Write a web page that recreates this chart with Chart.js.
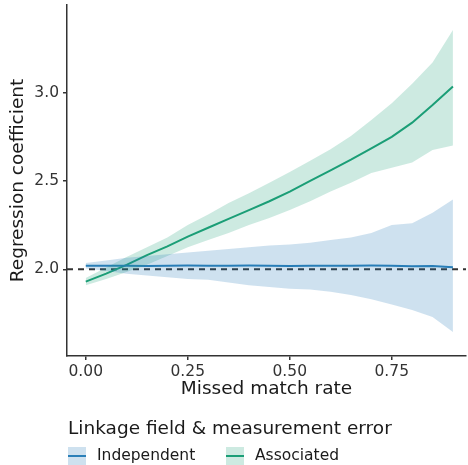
<!DOCTYPE html>
<html>
<head>
<meta charset="utf-8">
<script src="https://cdn.jsdelivr.net/npm/chart.js@4.4.1/dist/chart.umd.min.js"></script>
<style>
  html, body { margin: 0; padding: 0; background: #fff; }
  #wrap { width: 468px; height: 465px; }
</style>
</head>
<body>
<div id="wrap"><canvas id="chart" width="468" height="465"></canvas></div>
<script>
// Missed match rate on x, regression coefficient on y
const missRates = [0, 0.05, 0.1, 0.15, 0.2, 0.25, 0.3, 0.35, 0.4, 0.45, 0.5, 0.55, 0.6, 0.65, 0.7, 0.75, 0.8, 0.85, 0.9];

const indepMean  = [2.02, 2.02, 2.02, 2.019, 2.02, 2.021, 2.02, 2.02, 2.021, 2.02, 2.019, 2.02, 2.02, 2.02, 2.021, 2.02, 2.017, 2.018, 2.012];
const indepUpper = [2.035, 2.05, 2.065, 2.075, 2.085, 2.095, 2.105, 2.115, 2.125, 2.135, 2.14, 2.15, 2.165, 2.18, 2.205, 2.25, 2.26, 2.32, 2.395];
const indepLower = [2.005, 1.99, 1.975, 1.965, 1.955, 1.945, 1.94, 1.925, 1.91, 1.9, 1.89, 1.885, 1.873, 1.855, 1.83, 1.80, 1.77, 1.73, 1.645];

const assocMean  = [1.93, 1.975, 2.025, 2.08, 2.13, 2.185, 2.235, 2.285, 2.335, 2.385, 2.44, 2.5, 2.56, 2.62, 2.685, 2.75, 2.83, 2.93, 3.035];
const assocUpper = [1.95, 2.01, 2.07, 2.125, 2.18, 2.25, 2.31, 2.375, 2.43, 2.49, 2.55, 2.615, 2.68, 2.755, 2.845, 2.94, 3.05, 3.17, 3.355];
const assocLower = [1.91, 1.945, 1.985, 2.025, 2.075, 2.125, 2.165, 2.205, 2.25, 2.29, 2.335, 2.385, 2.44, 2.49, 2.545, 2.575, 2.605, 2.675, 2.70];

const xTicks = [0, 0.25, 0.5, 0.75];
const yTicks = [2.0, 2.5, 3.0];
const trueValue = 2.0;

const seriesNames = ['Independent', 'Associated'];
const legendTitle = 'Linkage field & measurement error';

const xMin = -0.046, xMax = 0.932;
const yMin = 1.509, yMax = 3.496;

const blue = '#2a7fb8';
const blueFill = 'rgba(31, 120, 180, 0.22)';
const green = '#1b9e77';
const greenFill = 'rgba(27, 158, 119, 0.22)';
const axisColor = '#333333';
const fontFam = '"DejaVu Sans", sans-serif';
const titleSize = 18.5;
const labelSize = 15.5;

function pts(ys) {
    return missRates.map((x, i) => ({ x: x, y: ys[i] }));
}

function bandEdge(ys, fill, bg) {
    return {
        data: pts(ys),
        borderWidth: 0,
        borderColor: 'rgba(0,0,0,0)',
        backgroundColor: bg || 'rgba(0,0,0,0)',
        pointRadius: 0,
        fill: fill,
        tension: 0
    };
}

// draws the legend under the plot (title + boxed keys)
const bottomLegend = {
    id: 'bottomLegend',
    afterDraw(chart) {
        const ctx = chart.ctx;
        ctx.save();
        ctx.fillStyle = '#1a1a1a';
        ctx.textBaseline = 'middle';
        ctx.textAlign = 'left';
        ctx.font = titleSize + 'px ' + fontFam;
        ctx.fillText(legendTitle, 68, 429);

        const items = [
            { name: seriesNames[0], line: blue, fill: blueFill, x: 68 },
            { name: seriesNames[1], line: green, fill: greenFill, x: 226 }
        ];
        ctx.font = labelSize + 'px ' + fontFam;
        items.forEach(it => {
            ctx.fillStyle = it.fill;
            ctx.fillRect(it.x, 447, 18, 18);
            ctx.strokeStyle = it.line;
            ctx.lineWidth = 2;
            ctx.beginPath();
            ctx.moveTo(it.x, 456);
            ctx.lineTo(it.x + 18, 456);
            ctx.stroke();
            ctx.fillStyle = '#1a1a1a';
            ctx.fillText(it.name, it.x + 29, 456);
        });
        ctx.restore();
    }
};

const ctx = document.getElementById('chart').getContext('2d');
new Chart(ctx, {
    type: 'line',
    data: {
        datasets: [
            bandEdge(indepLower, false),
            bandEdge(indepUpper, '-1', blueFill),
            bandEdge(assocLower, false),
            bandEdge(assocUpper, '-1', greenFill),
            {
                label: seriesNames[0],
                data: pts(indepMean),
                borderColor: blue,
                borderWidth: 2,
                pointRadius: 0,
                fill: false
            },
            {
                label: seriesNames[1],
                data: pts(assocMean),
                borderColor: green,
                borderWidth: 2,
                pointRadius: 0,
                fill: false
            },
            {
                label: 'reference',
                data: [{ x: xMin, y: trueValue }, { x: xMax, y: trueValue }],
                borderColor: axisColor,
                borderWidth: 2,
                borderDash: [6, 5],
                pointRadius: 0,
                fill: false
            }
        ]
    },
    options: {
        responsive: false,
        animation: false,
        layout: { padding: { left: 0, top: 5, right: 2, bottom: 65 } },
        plugins: {
            legend: { display: false },
            tooltip: { enabled: false }
        },
        scales: {
            x: {
                type: 'linear',
                min: xMin,
                max: xMax,
                afterBuildTicks: s => { s.ticks = xTicks.map(v => ({ value: v })); },
                afterFit: s => { s.height = 44; s.paddingLeft = 0; s.paddingRight = 0; },
                grid: { display: true, drawOnChartArea: false, drawTicks: true, tickLength: 4, color: axisColor, lineWidth: 1.5 },
                border: { display: true, color: axisColor, width: 1.5 },
                ticks: {
                    padding: 3,
                    color: '#333333',
                    font: { family: fontFam, size: labelSize },
                    maxRotation: 0,
                    callback: v => Number(v).toFixed(2)
                },
                title: {
                    display: true,
                    text: 'Missed match rate',
                    color: '#1a1a1a',
                    font: { family: fontFam, size: titleSize },
                    padding: { top: 0, bottom: 0 }
                }
            },
            y: {
                type: 'linear',
                min: yMin,
                max: yMax,
                afterBuildTicks: s => { s.ticks = yTicks.map(v => ({ value: v })); },
                afterFit: s => { s.width = 67; s.paddingTop = 0; s.paddingBottom = 0; },
                grid: { display: true, drawOnChartArea: false, drawTicks: true, tickLength: 4, color: axisColor, lineWidth: 1.5 },
                border: { display: true, color: axisColor, width: 1.5 },
                ticks: {
                    padding: 4,
                    color: '#333333',
                    font: { family: fontFam, size: labelSize },
                    callback: v => Number(v).toFixed(1)
                },
                title: {
                    display: true,
                    text: 'Regression coefficient',
                    color: '#1a1a1a',
                    font: { family: fontFam, size: titleSize },
                    padding: { top: 7, bottom: 0 }
                }
            }
        }
    },
    plugins: [bottomLegend]
});
</script>
</body>
</html>
